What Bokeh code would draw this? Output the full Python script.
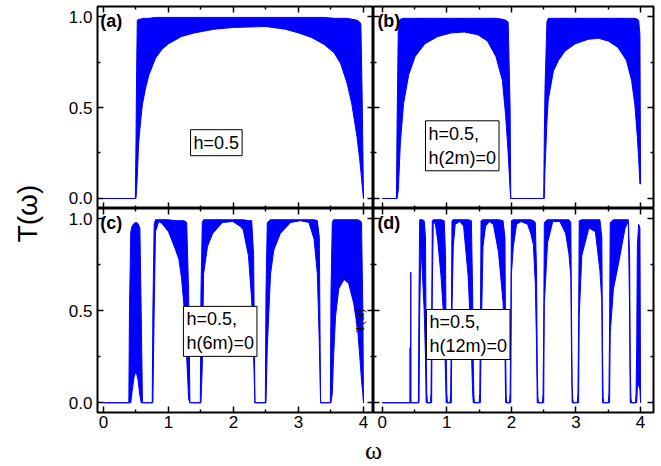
from math import pi
from bokeh.plotting import figure
from bokeh.layouts import row, column
from bokeh.models import (Range1d, LinearAxis, FixedTicker, Label,
                          NumeralTickFormatter, BasicTickFormatter, CustomJSTickFormatter)
from bokeh.embed import file_html
from bokeh.resources import INLINE

# ---------------- data (envelopes of the dense oscillations) -------------
# panel (a): h=0.5
w_a = [0.00, 0.49, 0.50, 0.51, 0.52, 0.54, 0.57, 0.60, 0.65, 0.70, 0.80, 0.90, 1.00, 1.20, 1.40,
       1.70, 2.00, 2.50, 2.80, 3.00, 3.20, 3.40, 3.55, 3.65, 3.75, 3.82, 3.90, 3.94, 3.96, 3.98, 4.00]
hi_a = [0.00, 0.00, 0.30, 0.70, 0.98, 0.985, 0.985, 0.99, 0.99, 0.99, 0.995, 0.995, 0.995, 0.995, 0.995,
        0.995, 0.995, 0.995, 0.995, 0.995, 0.995, 0.995, 0.99, 0.99, 0.99, 0.985, 0.98, 0.97, 0.96, 0.55, 0.00]
lo_a = [0.00, 0.00, 0.00, 0.05, 0.12, 0.30, 0.42, 0.52, 0.61, 0.68, 0.77, 0.82, 0.85, 0.89, 0.91,
        0.93, 0.94, 0.945, 0.93, 0.91, 0.885, 0.845, 0.80, 0.74, 0.63, 0.52, 0.34, 0.22, 0.15, 0.07, 0.00]

# panel (b): h=0.5, h(2m)=0
w_b = [0.00, 0.22, 0.23, 0.25, 0.28, 0.33, 0.41, 0.51, 0.66, 0.86, 1.07, 1.27, 1.48, 1.63, 1.76,
       1.86, 1.91, 1.95, 1.98, 1.99, 2.50, 2.51, 2.52, 2.55, 2.57, 2.65, 2.73, 2.83, 2.99, 3.19,
       3.35, 3.50, 3.65, 3.78, 3.86, 3.91, 3.95, 3.97, 3.99, 4.00]
hi_b = [0.00, 0.00, 0.40, 0.97, 0.985, 0.99, 0.99, 0.99, 0.99, 0.99, 0.99, 0.99, 0.99, 0.99, 0.99,
        0.985, 0.98, 0.97, 0.50, 0.00, 0.00, 0.35, 0.60, 0.97, 0.99, 0.99, 0.99, 0.99, 0.99, 0.99,
        0.99, 0.99, 0.99, 0.99, 0.99, 0.99, 0.985, 0.98, 0.90, 0.08]
lo_b = [0.00, 0.00, 0.00, 0.05, 0.30, 0.52, 0.68, 0.78, 0.85, 0.89, 0.91, 0.915, 0.90, 0.865, 0.78,
        0.65, 0.46, 0.25, 0.05, 0.00, 0.00, 0.00, 0.16, 0.42, 0.54, 0.70, 0.76, 0.81, 0.85, 0.875,
        0.88, 0.865, 0.83, 0.76, 0.65, 0.52, 0.34, 0.22, 0.08, 0.08]

# panel (c): h=0.5, h(6m)=0
w_c = [0.00, 0.39, 0.40, 0.42, 0.44, 0.47, 0.50, 0.53, 0.56, 0.58, 0.60,
       0.75, 0.76, 0.78, 0.80, 0.85, 0.90, 1.00, 1.10, 1.16, 1.20, 1.24, 1.28, 1.31, 1.33,
       1.49, 1.50, 1.52, 1.54, 1.60, 1.68, 1.83, 1.99, 2.10, 2.15, 2.23, 2.28, 2.31, 2.33,
       2.49, 2.50, 2.52, 2.57, 2.62, 2.72, 2.88, 3.03, 3.16, 3.24, 3.29, 3.32, 3.34,
       3.49, 3.50, 3.52, 3.54, 3.57, 3.62, 3.70, 3.77, 3.85, 3.91, 3.95, 3.97, 3.99, 4.00]
hi_c = [0.00, 0.00, 0.50, 0.93, 0.96, 0.975, 0.98, 0.975, 0.95, 0.50, 0.00,
        0.00, 0.50, 0.97, 0.995, 0.995, 0.995, 0.995, 0.99, 0.99, 0.99, 0.99, 0.98, 0.60, 0.00,
        0.00, 0.60, 0.98, 0.995, 0.995, 0.995, 0.995, 0.995, 0.995, 0.995, 0.99, 0.99, 0.80, 0.00,
        0.00, 0.60, 0.98, 0.995, 0.995, 0.995, 0.995, 0.995, 0.995, 0.995, 0.99, 0.90, 0.00,
        0.00, 0.60, 0.98, 0.995, 0.995, 0.995, 0.995, 0.995, 0.995, 0.995, 0.99, 0.98, 0.50, 0.00]
lo_c = [0.00, 0.00, 0.00, 0.00, 0.06, 0.14, 0.17, 0.13, 0.04, 0.00, 0.00,
        0.00, 0.00, 0.50, 0.93, 0.985, 0.975, 0.93, 0.84, 0.78, 0.68, 0.52, 0.25, 0.02, 0.00,
        0.00, 0.00, 0.20, 0.70, 0.85, 0.92, 0.98, 0.985, 0.96, 0.94, 0.80, 0.56, 0.25, 0.00,
        0.00, 0.00, 0.30, 0.70, 0.83, 0.92, 0.98, 0.99, 0.98, 0.89, 0.70, 0.33, 0.00,
        0.00, 0.00, 0.05, 0.25, 0.47, 0.62, 0.67, 0.65, 0.54, 0.40, 0.22, 0.12, 0.05, 0.00]

# panel (d): h=0.5, h(12m)=0
w_d = [0.00, 0.430, 0.432, 0.434, 0.440, 0.442, 0.444, 0.56,
       0.57, 0.58, 0.60, 0.62, 0.65, 0.67, 0.68, 0.69, 0.70, 0.745, 0.755, 0.765,
       0.775, 0.79, 0.82, 0.86, 0.91, 0.96, 0.98, 0.99, 1.00, 1.01, 1.05, 1.06, 1.07,
       1.08, 1.10, 1.13, 1.20, 1.26, 1.33, 1.38, 1.40, 1.41, 1.42, 1.43, 1.50, 1.51, 1.52,
       1.53, 1.56, 1.60, 1.66, 1.72, 1.80, 1.87, 1.90, 1.91, 1.92, 1.93, 1.97, 1.98, 1.99,
       2.00, 2.03, 2.08, 2.15, 2.25, 2.30, 2.34, 2.37, 2.39, 2.40, 2.41, 2.42, 2.48, 2.49, 2.50,
       2.51, 2.56, 2.64, 2.75, 2.84, 2.89, 2.92, 2.93, 2.94, 2.95, 2.96, 3.02, 3.03, 3.04,
       3.05, 3.09, 3.20, 3.30, 3.37, 3.40, 3.41, 3.42, 3.43, 3.50, 3.51, 3.52,
       3.53, 3.58, 3.66, 3.76, 3.81, 3.83, 3.84, 3.85, 3.86, 3.92, 3.93, 3.94,
       3.95, 3.97, 3.99, 4.00]
hi_d = [0.00, 0.00, 0.30, 0.00, 0.00, 0.71, 0.00, 0.00,
        0.60, 0.995, 0.995, 0.995, 0.99, 0.90, 0.30, 0.05, 0.00, 0.00, 0.05, 0.40,
        0.99, 0.995, 0.995, 0.995, 0.995, 0.99, 0.80, 0.30, 0.05, 0.00, 0.00, 0.05, 0.40,
        0.99, 0.995, 0.995, 0.995, 0.995, 0.995, 0.99, 0.60, 0.20, 0.03, 0.00, 0.00, 0.05, 0.40,
        0.99, 0.995, 0.995, 0.995, 0.995, 0.995, 0.99, 0.90, 0.30, 0.03, 0.00, 0.00, 0.05, 0.40,
        0.99, 0.995, 0.995, 0.995, 0.995, 0.995, 0.99, 0.98, 0.70, 0.20, 0.03, 0.00, 0.00, 0.05, 0.40,
        0.98, 0.995, 0.995, 0.995, 0.995, 0.995, 0.98, 0.50, 0.10, 0.02, 0.00, 0.00, 0.05, 0.40,
        0.99, 0.995, 0.995, 0.995, 0.995, 0.90, 0.30, 0.03, 0.00, 0.00, 0.05, 0.40,
        0.98, 0.995, 0.995, 0.995, 0.995, 0.80, 0.20, 0.03, 0.00, 0.00, 0.05, 0.30,
        0.85, 0.97, 0.95, 0.00]
lo_d = [0.00, 0.00, 0.00, 0.00, 0.00, 0.00, 0.00, 0.00,
        0.00, 0.50, 0.85, 0.72, 0.50, 0.25, 0.00, 0.00, 0.00, 0.00, 0.00, 0.00,
        0.60, 0.97, 0.98, 0.88, 0.69, 0.42, 0.15, 0.00, 0.00, 0.00, 0.00, 0.00, 0.00,
        0.50, 0.85, 0.97, 0.985, 0.96, 0.69, 0.30, 0.05, 0.00, 0.00, 0.00, 0.00, 0.00, 0.00,
        0.30, 0.85, 0.96, 0.985, 0.97, 0.82, 0.55, 0.30, 0.00, 0.00, 0.00, 0.00, 0.00, 0.00,
        0.70, 0.85, 0.97, 0.985, 0.97, 0.92, 0.86, 0.65, 0.30, 0.00, 0.00, 0.00, 0.00, 0.00, 0.00,
        0.54, 0.87, 0.985, 0.985, 0.92, 0.81, 0.69, 0.30, 0.00, 0.00, 0.00, 0.00, 0.00, 0.00,
        0.47, 0.80, 0.95, 0.93, 0.72, 0.55, 0.00, 0.00, 0.00, 0.00, 0.00, 0.00,
        0.38, 0.62, 0.76, 0.95, 0.985, 0.50, 0.00, 0.00, 0.00, 0.00, 0.00, 0.00,
        0.08, 0.10, 0.07, 0.00]

panel_tags = ["(a)", "(b)", "(c)", "(d)"]
box_texts = ["h=0.5", "h=0.5,\nh(2m)=0", "h=0.5,\nh(6m)=0", "h=0.5,\nh(12m)=0"]

x_ticks = [0, 1, 2, 3, 4]
x_minor_ticks = [0.5, 1.5, 2.5, 3.5]
y_ticks = [0.0, 0.5, 1.0]
y_minor_ticks = [0.25, 0.75]

y_title = "T(\u03c9)"
x_title = "\u03c9"

# ---------------- styling ----------------
BLUE = "#0000ff"
SANS = "Liberation Sans"
SERIF = "Liberation Serif"


def add_axis(p, side, show, xr, yr):
    if side in ("below", "above"):
        ax = LinearAxis(ticker=FixedTicker(ticks=x_ticks, minor_ticks=x_minor_ticks))
    else:
        ax = LinearAxis(ticker=FixedTicker(ticks=y_ticks, minor_ticks=y_minor_ticks))
    ax.axis_line_color = None
    ax.major_tick_in = 6
    ax.major_tick_out = 0
    ax.minor_tick_in = 3
    ax.minor_tick_out = 0
    ax.major_tick_line_width = 1.5
    ax.minor_tick_line_width = 1.5
    ax.major_tick_line_color = "black"
    ax.minor_tick_line_color = "black"
    if show:
        ax.major_label_text_font = SANS
        ax.major_label_text_color = "black"
        ax.major_label_text_font_size = "17px"
        if side in ("left", "right"):
            ax.formatter = NumeralTickFormatter(format="0.0")
            ax.major_label_standoff = 5
        else:
            ax.formatter = BasicTickFormatter()
            ax.major_label_standoff = 3
    else:
        ax.formatter = CustomJSTickFormatter(code="return ''")
        ax.major_label_text_font_size = "0px"
        ax.major_label_standoff = 0
        ax.fixed_location = {"below": yr[0], "above": yr[1], "left": xr[0], "right": xr[1]}[side]
    p.add_layout(ax, side)


def make_panel(w, lo, hi, xr, yr, fw, fh, borders, show_x, show_y, tag, tag_xy, box, box_xy):
    left, right, top, bottom = borders
    p = figure(frame_width=fw, frame_height=fh,
               x_range=Range1d(*xr), y_range=Range1d(*yr),
               x_axis_location=None, y_axis_location=None,
               toolbar_location=None, output_backend="svg",
               min_border_left=left, min_border_right=right,
               min_border_top=top, min_border_bottom=bottom)
    p.grid.visible = False
    p.outline_line_color = "black"
    p.outline_line_width = 2
    p.background_fill_color = "white"
    p.border_fill_color = "white"
    add_axis(p, "below", show_x, xr, yr)
    add_axis(p, "above", False, xr, yr)
    add_axis(p, "left", show_y, xr, yr)
    add_axis(p, "right", False, xr, yr)

    p.varea(x=w, y1=lo, y2=hi, fill_color=BLUE, fill_alpha=1.0)
    p.line(w, hi, line_color=BLUE, line_width=1)
    p.line(w, lo, line_color=BLUE, line_width=1)

    p.add_layout(Label(x=tag_xy[0], y=tag_xy[1], text=tag, text_font=SANS,
                       text_font_size="18px", text_font_style="bold",
                       text_align="left", text_baseline="top", text_color="black"))
    p.add_layout(Label(x=box_xy[0], y=box_xy[1], text=box, text_font=SANS,
                       text_font_size="18px", text_align="left", text_baseline="top",
                       text_color="black", background_fill_color="white",
                       border_line_color="black", border_line_width=1, padding=3))
    return p


XR_L = (-0.092, 4.154)
XR_R = (-0.135, 4.200)
YR_T = (-0.055, 1.055)
YR_B = (-0.053, 1.056)

pa = make_panel(w_a, lo_a, hi_a, XR_L, YR_T, 276, 202, (44, 0, 6, 0), False, True,
                panel_tags[0], (-0.05, 1.03), box_texts[0], (1.34, 0.378))
pb = make_panel(w_b, lo_b, hi_b, XR_R, YR_T, 280, 202, (0, 2, 6, 0), False, False,
                panel_tags[1], (-0.075, 1.03), box_texts[1], (0.67, 0.427))
pc = make_panel(w_c, lo_c, hi_c, XR_L, YR_B, 276, 204, (44, 0, 0, 23), True, True,
                panel_tags[2], (-0.05, 1.03), box_texts[2], (1.23, 0.524))
pd = make_panel(w_d, lo_d, hi_d, XR_R, YR_B, 280, 204, (0, 2, 0, 23), True, False,
                panel_tags[3], (-0.075, 1.03), box_texts[3], (0.685, 0.507))

# stray small rotated label seen inside panel (c)
pc.add_layout(Label(x=3.94, y=0.447, text=y_title, text_font=SERIF, text_font_size="12px",
                    angle=pi / 2, text_align="center", text_baseline="middle", text_color="black"))


def strip(w, h):
    s = figure(width=w, height=h, x_range=Range1d(0, w), y_range=Range1d(0, h),
               x_axis_location=None, y_axis_location=None, toolbar_location=None,
               output_backend="svg", min_border=0)
    s.grid.visible = False
    s.outline_line_color = None
    s.background_fill_color = "white"
    s.border_fill_color = "white"
    return s


left = strip(53, 465)
left.add_layout(Label(x=27, y=252, text=y_title, text_font=SANS, text_font_size="28px",
                      angle=pi / 2, text_align="center", text_baseline="middle", text_color="black"))

bottom = strip(602, 30)
bottom.add_layout(Label(x=320, y=0.5, text=x_title, text_font=SERIF, text_font_size="26px",
                        text_align="center", text_baseline="bottom", text_color="black"))

layout = row(left, column(row(pa, pb), row(pc, pd), bottom))

open("out.html", "w").write(file_html(layout, INLINE))
